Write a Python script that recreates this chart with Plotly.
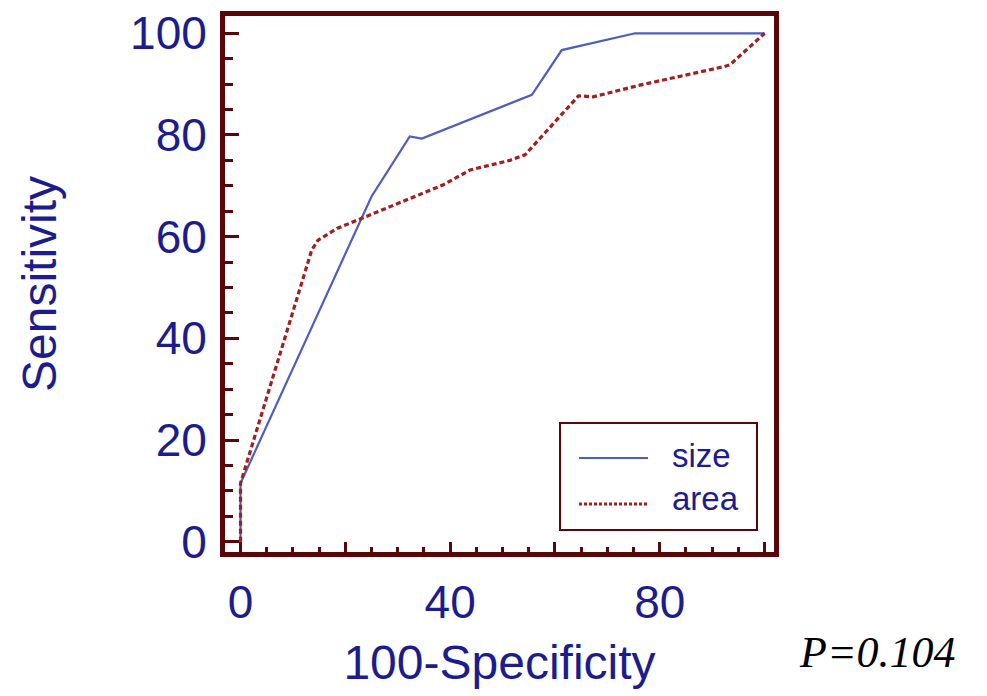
import plotly.graph_objects as go

# ROC data (100-Specificity, Sensitivity)
size_x = [0, 0, 25.0, 32.3, 34.6, 55.6, 61.3, 75.3, 100]
size_y = [0, 11.5, 67.9, 79.7, 79.3, 87.9, 96.7, 100, 100]

area_x = [0, 0, 13.6, 14.8, 18.4, 23.1, 27.9, 32.3, 38.7, 43.8, 51.4, 54.3, 64.5, 67.3, 76.2, 92.1, 93.4, 100]
area_y = [0, 11.5, 57.4, 59.3, 61.6, 63.6, 65.6, 67.5, 70.2, 73.1, 75.0, 76.1, 87.7, 87.5, 89.8, 93.4, 93.8, 100]

x_tickvals = [0, 20, 40, 60, 80, 100]
x_ticktext = ["0", "", "40", "", "80", ""]
y_tickvals = [0, 20, 40, 60, 80, 100]
y_ticktext = ["0", "20", "40", "60", "80", "100"]

series_names = ["size", "area"]
p_text = "P=0.104"

FRAME = "#580808"
TEXT = "#1c1c8e"
BLUE = "#4f5cc0"
RED = "#a02020"
FONT = "Liberation Sans, Arial, sans-serif"

fig = go.Figure()
fig.add_trace(go.Scatter(x=size_x, y=size_y, mode="lines", name=series_names[0],
                         line=dict(color=BLUE, width=2.2), showlegend=False))
fig.add_trace(go.Scatter(x=area_x, y=area_y, mode="lines", name=series_names[1],
                         line=dict(color=RED, width=3.2, dash="5px,3px"), showlegend=False))

W, H = 987, 696
L, R, T, B = 225, 213, 16, 144

fig.update_layout(
    width=W, height=H,
    margin=dict(l=L, r=R, t=T, b=B, pad=0, autoexpand=False),
    paper_bgcolor="white", plot_bgcolor="white",
    font=dict(family=FONT, color=TEXT),
    xaxis=dict(
        range=[-2.96, 101.8], showgrid=False, zeroline=False, automargin=False,
        showline=True, linecolor=FRAME, linewidth=5, mirror=True,
        tickmode="array", tickvals=x_tickvals, ticktext=x_ticktext,
        ticks="inside", ticklen=10, tickwidth=2.5, tickcolor=FRAME,
        tickfont=dict(size=46, color=TEXT, family=FONT),
        minor=dict(tick0=0, dtick=5, ticks="inside", ticklen=5, tickwidth=2.5, tickcolor=FRAME),
        title=dict(text="100-Specificity", font=dict(size=48, color=TEXT, family=FONT), standoff=20),
        ticklabelstandoff=6,
    ),
    yaxis=dict(
        range=[-2.03, 103.4], showgrid=False, zeroline=False, automargin=False,
        showline=True, linecolor=FRAME, linewidth=5, mirror=True,
        tickmode="array", tickvals=y_tickvals, ticktext=y_ticktext,
        ticks="inside", ticklen=14, tickwidth=2.5, tickcolor=FRAME,
        tickfont=dict(size=46, color=TEXT, family=FONT),
        minor=dict(tick0=0, dtick=5, ticks="inside", ticklen=8, tickwidth=2.5, tickcolor=FRAME),
        title=dict(text="Sensitivity", font=dict(size=48, color=TEXT, family=FONT), standoff=60),
        ticklabelstandoff=4,
    ),
)

PW = W - L - R
PH = H - T - B

fig.add_shape(type="rect", xref="paper", yref="paper",
              x0=(560 - L) / PW, x1=(757 - L) / PW,
              y0=(H - B - 530) / PH, y1=(H - B - 423) / PH,
              line=dict(color=FRAME, width=2), fillcolor="white", layer="above")
lx0 = (579 - L) / PW
lx1 = (648 - L) / PW
for yy, col, dash, wd in [(458, BLUE, "solid", 2), (504, RED, "3px,2px", 3)]:
    yf = (H - B - yy) / PH
    fig.add_shape(type="line", xref="paper", yref="paper", x0=lx0, x1=lx1, y0=yf, y1=yf,
                  line=dict(color=col, width=wd, dash=dash), layer="above")
for yy, txt in [(455, series_names[0]), (498, series_names[1])]:
    fig.add_annotation(xref="paper", yref="paper", x=(670 - L) / PW,
                       y=(H - B - yy) / PH, text=txt, showarrow=False,
                       xanchor="left", yanchor="middle",
                       font=dict(size=33, color=TEXT, family=FONT))

fig.add_annotation(xref="paper", yref="paper", x=(797 - L) / PW,
                   y=(H - B - 652) / PH, text="<i>" + p_text + "</i>", showarrow=False,
                   xanchor="left", yanchor="middle",
                   font=dict(size=44, color="black", family="Liberation Serif, Times New Roman, serif"))

fig.write_html("out.html")
